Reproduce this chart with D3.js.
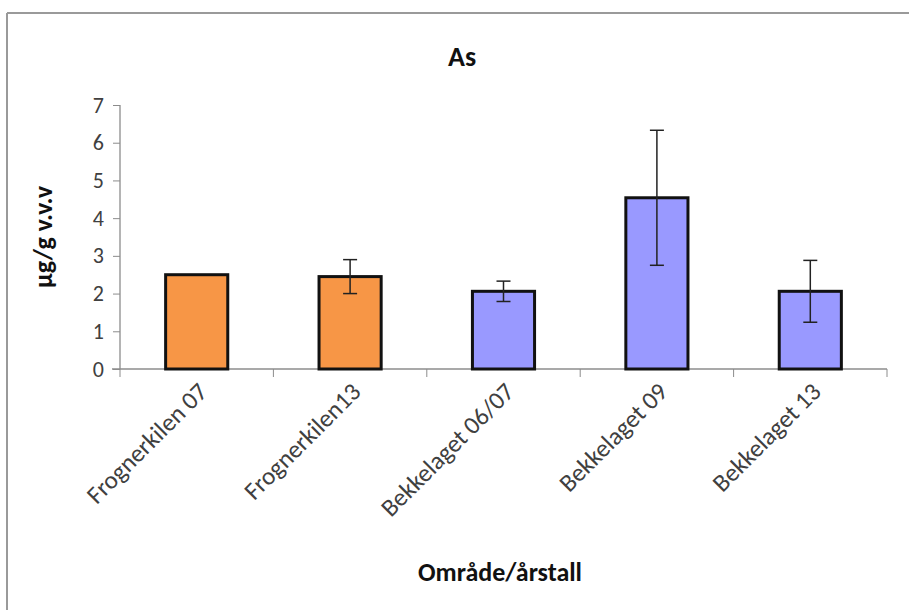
<!DOCTYPE html>
<html><head><meta charset="utf-8">
<script src="https://cdn.jsdelivr.net/npm/d3@7"></script>
<style>html,body{margin:0;padding:0;background:#fff;}svg{display:block;}</style>
</head><body>
<svg id="c" width="909" height="610"></svg>
<script>
const categories = ["Frognerkilen 07", "Frognerkilen13", "Bekkelaget 06/07", "Bekkelaget 09", "Bekkelaget 13"];
const values = [2.5, 2.45, 2.06, 4.54, 2.06];
const errors = [null, 0.45, 0.27, 1.79, 0.82];
const groups = ["Frognerkilen", "Frognerkilen", "Bekkelaget", "Bekkelaget", "Bekkelaget"];
const yTicks = [0, 1, 2, 3, 4, 5, 6, 7];
const colors = {Frognerkilen: "#F79646", Bekkelaget: "#9999FF"};

(function () {
const svg = d3.select("#c");
const font = "Calibri, Carlito, 'Open Sans', sans-serif";

// outer frame
svg.append("line").attr("x1", 7).attr("x2", 909).attr("y1", 13).attr("y2", 13).attr("stroke", "#9a9a9a").attr("stroke-width", 2);
svg.append("line").attr("x1", 7).attr("x2", 7).attr("y1", 13).attr("y2", 610).attr("stroke", "#9a9a9a").attr("stroke-width", 2);

const pLeft = 120, pRight = 887, pTop = 105, pBottom = 369;
const x = d3.scaleBand().domain(categories).range([pLeft, pRight]).paddingInner(0.595).paddingOuter(0.2975);
const y = d3.scaleLinear().domain([0, 7]).range([pBottom, pTop]);

// y axis
const yAxis = d3.axisLeft(y).tickValues(yTicks).tickFormat(d3.format("d")).tickSize(7).tickPadding(9);
const gy = svg.append("g").attr("transform", `translate(${pLeft},0)`).call(yAxis);
gy.select(".domain").attr("stroke", "#8c8c8c").attr("stroke-width", 1.3).attr("d", `M0,${pTop}V${pBottom}`);
gy.selectAll(".tick line").attr("stroke", "#8c8c8c");
gy.selectAll(".tick text").attr("font-family", font).attr("font-size", 22).attr("fill", "#404040");

// x axis with ticks at category boundaries
const gx = svg.append("g").attr("transform", `translate(0,${pBottom})`);
gx.append("line").attr("x1", pLeft - 8).attr("x2", pRight).attr("y1", 0).attr("y2", 0).attr("stroke", "#8c8c8c").attr("stroke-width", 1.3);
const boundaries = d3.range(categories.length + 1).map(i => pLeft + i * (pRight - pLeft) / categories.length);
gx.selectAll(".xt").data(boundaries).join("line")
  .attr("x1", d => d).attr("x2", d => d).attr("y1", 0).attr("y2", 8).attr("stroke", "#8c8c8c");

gx.selectAll(".xl").data(categories).join("text")
  .attr("transform", d => `translate(${x(d) + x.bandwidth() / 2 + 6},${18}) rotate(-45)`)
  .attr("text-anchor", "end").attr("dy", "0.35em")
  .attr("font-family", font).attr("font-size", 25).attr("fill", "#404040")
  .text(d => d);

// bars
const data = categories.map((c, i) => ({c, v: values[i], e: errors[i], g: groups[i]}));
svg.selectAll(".bar").data(data).join("rect")
  .attr("x", d => x(d.c)).attr("width", x.bandwidth())
  .attr("y", d => y(d.v)).attr("height", d => y(0) - y(d.v))
  .attr("fill", d => colors[d.g]).attr("stroke", "#111").attr("stroke-width", 3);

// error bars
const eb = svg.selectAll(".eb").data(data.filter(d => d.e != null)).join("g").attr("stroke", "#222").attr("stroke-width", 1.5);
eb.append("line").attr("x1", d => x(d.c) + x.bandwidth() / 2).attr("x2", d => x(d.c) + x.bandwidth() / 2)
  .attr("y1", d => y(d.v + d.e)).attr("y2", d => y(d.v - d.e));
eb.append("line").attr("x1", d => x(d.c) + x.bandwidth() / 2 - 7).attr("x2", d => x(d.c) + x.bandwidth() / 2 + 7)
  .attr("y1", d => y(d.v + d.e)).attr("y2", d => y(d.v + d.e));
eb.append("line").attr("x1", d => x(d.c) + x.bandwidth() / 2 - 7).attr("x2", d => x(d.c) + x.bandwidth() / 2 + 7)
  .attr("y1", d => y(d.v - d.e)).attr("y2", d => y(d.v - d.e));

// title & axis titles
svg.append("text").attr("x", 462).attr("y", 66).attr("text-anchor", "middle")
  .attr("font-family", font).attr("font-weight", "bold").attr("font-size", 28).attr("fill", "#111").text("As");
svg.append("text").attr("x", 500).attr("y", 581).attr("text-anchor", "middle")
  .attr("font-family", font).attr("font-weight", "bold").attr("font-size", 26).attr("fill", "#111").text("Område/årstall");
svg.append("text").attr("transform", `translate(52,237) rotate(-90)`).attr("text-anchor", "middle")
  .attr("font-family", font).attr("font-weight", "bold").attr("font-size", 26).attr("fill", "#111").text("µg/g v.v.v");
})();
</script>
</body></html>
